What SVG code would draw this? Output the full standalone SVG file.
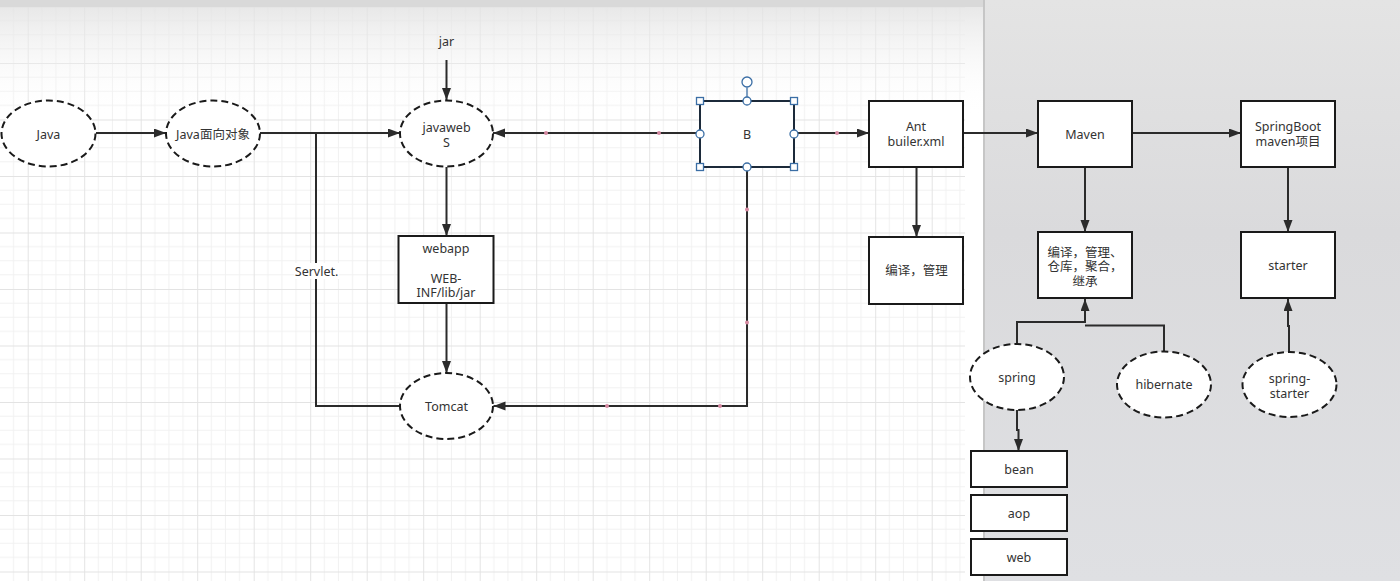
<svg xmlns="http://www.w3.org/2000/svg" width="1400" height="581" viewBox="0 0 1400 581">
<style>
  .t{font-family:"Noto Sans","Noto Sans CJK SC",sans-serif;font-size:12.5px;fill:#333;text-anchor:middle}
  .box{fill:#fff;stroke:#1a1a1a;stroke-width:2}
  .ell{fill:#fff;stroke:#1a1a1a;stroke-width:2;stroke-dasharray:7 4}
  .ln{fill:none;stroke:#2b2b2b;stroke-width:2}
  .dot{fill:#d68aa2}
  .hdl{fill:#fff;stroke:#3b6ea5;stroke-width:1.3}
</style>
<defs>
  <pattern id="grid" patternUnits="userSpaceOnUse" x="27.7" y="6.5" width="56.5" height="56.5">
    <path d="M14.125 0V56.5M28.25 0V56.5M42.375 0V56.5M0 14.125H56.5M0 28.25H56.5M0 42.375H56.5" stroke="#f1f1f1" stroke-width="1" fill="none"/>
    <path d="M0.5 0V56.5M0 0.5H56.5" stroke="#e3e3e3" stroke-width="1" fill="none"/>
  </pattern>
  <linearGradient id="haze" x1="0" y1="0" x2="0" y2="1">
    <stop offset="0" stop-color="#e2e2e2" stop-opacity="0.8"/>
    <stop offset="1" stop-color="#ffffff" stop-opacity="0"/>
  </linearGradient>
  <linearGradient id="panel" x1="0" y1="0" x2="0" y2="1">
    <stop offset="0" stop-color="#e4e4e4"/>
    <stop offset="0.4" stop-color="#dadadc"/>
    <stop offset="1" stop-color="#dfe0e3"/>
  </linearGradient>
  <marker id="arr" markerUnits="userSpaceOnUse" markerWidth="13" markerHeight="10" refX="12" refY="4.5" orient="auto">
    <path d="M0,0 L12,4.5 L0,9 Z" fill="#2b2b2b"/>
  </marker>
</defs>

<!-- background -->
<rect x="0" y="0" width="1400" height="581" fill="#fff"/>
<rect x="0" y="7" width="965" height="574" fill="url(#grid)"/>
<rect x="0" y="7" width="983" height="110" fill="url(#haze)"/>
<rect x="0" y="0" width="1400" height="7" fill="#d9d9d9"/>
<rect x="983" y="0" width="2" height="581" fill="#c6c6c6"/>
<rect x="985" y="0" width="415" height="581" fill="url(#panel)"/>

<!-- connectors -->
<g id="connectors">
  <line class="ln" x1="96" y1="133" x2="166" y2="133" marker-end="url(#arr)"/>
  <line class="ln" x1="260" y1="133" x2="400" y2="133" marker-end="url(#arr)"/>
  <line class="ln" x1="446.5" y1="60" x2="446.5" y2="100" marker-end="url(#arr)"/>
  <line class="ln" x1="446.5" y1="167" x2="446.5" y2="236" marker-end="url(#arr)"/>
  <line class="ln" x1="446.5" y1="303" x2="446.5" y2="373" marker-end="url(#arr)"/>
  <path class="ln" d="M400 406H316V133"/>
  <rect x="294" y="263" width="45" height="16" fill="#fff"/>
  <text class="t" x="316.6" y="275.5">Servlet.</text>
  <line class="ln" x1="700" y1="133" x2="493" y2="133" marker-end="url(#arr)"/>
  <circle class="dot" cx="546" cy="133" r="2"/>
  <circle class="dot" cx="659" cy="133" r="2"/>
  <path class="ln" d="M747 167V406H493.5" marker-end="url(#arr)"/>
  <circle class="dot" cx="747" cy="209.5" r="2"/>
  <circle class="dot" cx="747" cy="322.5" r="2"/>
  <circle class="dot" cx="607" cy="406" r="2"/>
  <circle class="dot" cx="720" cy="406" r="2"/>
  <line class="ln" x1="794" y1="133" x2="869" y2="133" marker-end="url(#arr)"/>
  <circle class="dot" cx="837" cy="133" r="2"/>
  <line class="ln" x1="963" y1="133" x2="1038" y2="133" marker-end="url(#arr)"/>
  <line class="ln" x1="1132" y1="133" x2="1241" y2="133" marker-end="url(#arr)"/>
  <line class="ln" x1="916.5" y1="167" x2="916.5" y2="237" marker-end="url(#arr)"/>
  <line class="ln" x1="1085" y1="167" x2="1085" y2="232" marker-end="url(#arr)"/>
  <line class="ln" x1="1288" y1="167" x2="1288" y2="232" marker-end="url(#arr)"/>
  <path class="ln" d="M1017 344V322H1085V299" marker-end="url(#arr)"/>
  <path class="ln" d="M1164 351V325.5H1085"/>
  <path class="ln" d="M1289 352V326H1288V299" marker-end="url(#arr)"/>
  <path class="ln" d="M1017 410V430H1018.5V451" marker-end="url(#arr)"/>
</g>

<!-- nodes -->
<g id="n-java"><ellipse class="ell" cx="48.5" cy="133.5" rx="47" ry="33"/><text class="t" x="48.5" y="138.5">Java</text></g>
<g id="n-oop"><ellipse class="ell" cx="213" cy="133.5" rx="47" ry="33"/><text class="t" x="213" y="138.5">Java面向对象</text></g>
<g id="n-jar"><text class="t" x="446.5" y="45.5">jar</text></g>
<g id="n-javaweb"><ellipse class="ell" cx="446.5" cy="133.5" rx="46.5" ry="33"/><text class="t" x="446.5" y="132">javaweb</text><text class="t" x="446.5" y="146.5">S</text></g>
<g id="n-webapp"><rect class="box" x="398.5" y="236" width="95" height="67"/><text class="t" x="446" y="252.5">webapp</text><text class="t" x="446" y="282.5">WEB-</text><text class="t" x="446" y="297">INF/lib/jar</text></g>
<g id="n-tomcat"><ellipse class="ell" cx="446.5" cy="406" rx="46.5" ry="33"/><text class="t" x="446.5" y="411">Tomcat</text></g>
<g id="n-b">
  <rect x="700" y="101" width="94" height="66" fill="#fff" stroke="#1c2a3a" stroke-width="2"/>
  <text class="t" x="747" y="138.5">B</text>
  <line x1="747" y1="87.5" x2="747" y2="101" stroke="#3b6ea5" stroke-width="1.3"/>
  <circle class="hdl" cx="747" cy="82" r="5"/>
  <rect class="hdl" x="696.5" y="97.5" width="7" height="7"/>
  <rect class="hdl" x="790.5" y="97.5" width="7" height="7"/>
  <rect class="hdl" x="696.5" y="163.5" width="7" height="7"/>
  <rect class="hdl" x="790.5" y="163.5" width="7" height="7"/>
  <circle class="hdl" cx="747" cy="101" r="4"/>
  <circle class="hdl" cx="747" cy="167" r="4"/>
  <circle class="hdl" cx="700" cy="134" r="4"/>
  <circle class="hdl" cx="794" cy="134" r="4"/>
</g>
<g id="n-ant"><rect class="box" x="869" y="101" width="94" height="66"/><text class="t" x="916" y="131">Ant</text><text class="t" x="916" y="146">builer.xml</text></g>
<g id="n-compile"><rect class="box" x="869" y="237" width="94" height="67"/><text class="t" x="916.5" y="274.5">编译，管理</text></g>
<g id="n-maven"><rect class="box" x="1038" y="101" width="94" height="66"/><text class="t" x="1085" y="138.5">Maven</text></g>
<g id="n-maven-sub"><rect class="box" x="1038" y="232" width="94" height="66"/><text class="t" x="1085" y="256.5">编译，管理、</text><text class="t" x="1085" y="271">仓库，聚合，</text><text class="t" x="1085" y="285.5">继承</text></g>
<g id="n-springboot"><rect class="box" x="1241" y="101" width="94" height="66"/><text class="t" x="1288" y="131">SpringBoot</text><text class="t" x="1288" y="146">maven项目</text></g>
<g id="n-starter"><rect class="box" x="1241" y="232" width="94" height="66"/><text class="t" x="1288" y="270">starter</text></g>
<g id="n-spring"><ellipse class="ell" cx="1017" cy="377" rx="47" ry="33"/><text class="t" x="1017" y="382">spring</text></g>
<g id="n-hibernate"><ellipse class="ell" cx="1164" cy="384.5" rx="47" ry="33"/><text class="t" x="1164" y="389">hibernate</text></g>
<g id="n-spring-starter"><ellipse class="ell" cx="1289.5" cy="384.5" rx="47" ry="32.5"/><text class="t" x="1289.5" y="382.5">spring-</text><text class="t" x="1289.5" y="397.5">starter</text></g>
<g id="n-bean"><rect class="box" x="971" y="451" width="96" height="36"/><text class="t" x="1019" y="473.5">bean</text></g>
<g id="n-aop"><rect class="box" x="971" y="495" width="96" height="36"/><text class="t" x="1019" y="517.5">aop</text></g>
<g id="n-web"><rect class="box" x="971" y="539" width="96" height="36"/><text class="t" x="1019" y="561.5">web</text></g>
</svg>
